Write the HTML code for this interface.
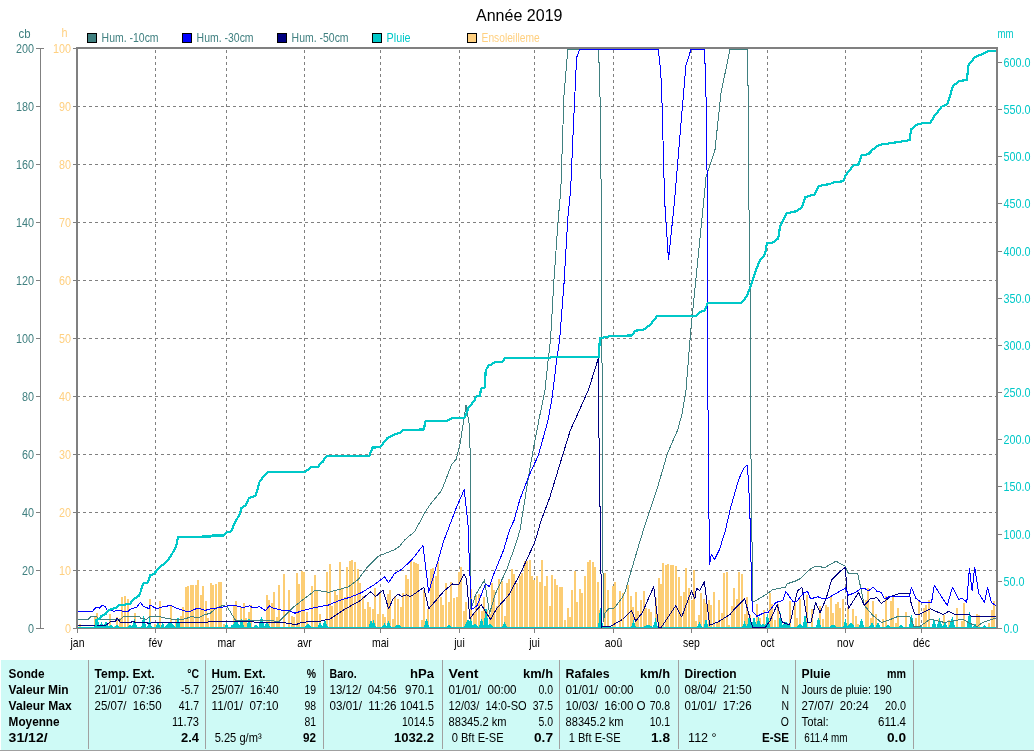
<!DOCTYPE html><html><head><meta charset="utf-8"><style>
html,body{margin:0;padding:0;background:#fff;width:1034px;height:751px;overflow:hidden}
svg{display:block;position:absolute;left:0;top:0;will-change:transform}
text{font-family:"Liberation Sans", sans-serif;white-space:pre}
</style></head><body>
<svg width="1034" height="751" viewBox="0 0 1034 751">

<text x="476" y="21" font-size="16.5" textLength="86.5" lengthAdjust="spacingAndGlyphs" fill="#000">Année 2019</text>
<rect x="87.5" y="33.5" width="9" height="9" fill="#408080" stroke="#000" stroke-width="1"/>
<text x="101.60" y="42" font-size="12.9" fill="#408080" textLength="57.00" lengthAdjust="spacingAndGlyphs">Hum. -10cm</text>
<rect x="182.5" y="33.5" width="9" height="9" fill="#0000FF" stroke="#000" stroke-width="1"/>
<text x="196.60" y="42" font-size="12.9" fill="#408080" textLength="57.00" lengthAdjust="spacingAndGlyphs">Hum. -30cm</text>
<rect x="277.5" y="33.5" width="9" height="9" fill="#000080" stroke="#000" stroke-width="1"/>
<text x="291.60" y="42" font-size="12.9" fill="#408080" textLength="57.00" lengthAdjust="spacingAndGlyphs">Hum. -50cm</text>
<rect x="372.5" y="33.5" width="9" height="9" fill="#00C8C8" stroke="#000" stroke-width="1"/>
<text x="386.60" y="42" font-size="12.9" fill="#00C8C8" textLength="24.00" lengthAdjust="spacingAndGlyphs">Pluie</text>
<rect x="467.5" y="33.5" width="9" height="9" fill="#FFD080" stroke="#000" stroke-width="1"/>
<text x="481.60" y="42" font-size="12.9" fill="#FFD080" textLength="58.00" lengthAdjust="spacingAndGlyphs">Ensoleilleme</text>
<text x="18.60" y="38" font-size="12.9" fill="#408080" textLength="12.00" lengthAdjust="spacingAndGlyphs">cb</text>
<text x="61.60" y="37" font-size="12.9" fill="#FFD080" textLength="6.00" lengthAdjust="spacingAndGlyphs">h</text>
<text x="997.60" y="38" font-size="12.9" fill="#00C8C8" textLength="16.00" lengthAdjust="spacingAndGlyphs">mm</text>
<defs><clipPath id="pc"><rect x="78" y="49" width="918" height="579"/></clipPath></defs>
<g clip-path="url(#pc)"><line x1="77" y1="106.5" x2="996" y2="106.5" stroke="#808080" stroke-width="1" stroke-dasharray="3 3" shape-rendering="crispEdges"/>
<line x1="77" y1="164.5" x2="996" y2="164.5" stroke="#808080" stroke-width="1" stroke-dasharray="3 3" shape-rendering="crispEdges"/>
<line x1="77" y1="222.5" x2="996" y2="222.5" stroke="#808080" stroke-width="1" stroke-dasharray="3 3" shape-rendering="crispEdges"/>
<line x1="77" y1="280.5" x2="996" y2="280.5" stroke="#808080" stroke-width="1" stroke-dasharray="3 3" shape-rendering="crispEdges"/>
<line x1="77" y1="338.5" x2="996" y2="338.5" stroke="#808080" stroke-width="1" stroke-dasharray="3 3" shape-rendering="crispEdges"/>
<line x1="77" y1="396.5" x2="996" y2="396.5" stroke="#808080" stroke-width="1" stroke-dasharray="3 3" shape-rendering="crispEdges"/>
<line x1="77" y1="454.5" x2="996" y2="454.5" stroke="#808080" stroke-width="1" stroke-dasharray="3 3" shape-rendering="crispEdges"/>
<line x1="77" y1="512.5" x2="996" y2="512.5" stroke="#808080" stroke-width="1" stroke-dasharray="3 3" shape-rendering="crispEdges"/>
<line x1="77" y1="570.5" x2="996" y2="570.5" stroke="#808080" stroke-width="1" stroke-dasharray="3 3" shape-rendering="crispEdges"/>
<line x1="155.5" y1="50" x2="155.5" y2="628" stroke="#808080" stroke-width="1" stroke-dasharray="3 3" shape-rendering="crispEdges"/>
<line x1="226.5" y1="50" x2="226.5" y2="628" stroke="#808080" stroke-width="1" stroke-dasharray="3 3" shape-rendering="crispEdges"/>
<line x1="304.5" y1="50" x2="304.5" y2="628" stroke="#808080" stroke-width="1" stroke-dasharray="3 3" shape-rendering="crispEdges"/>
<line x1="380.5" y1="50" x2="380.5" y2="628" stroke="#808080" stroke-width="1" stroke-dasharray="3 3" shape-rendering="crispEdges"/>
<line x1="459.5" y1="50" x2="459.5" y2="628" stroke="#808080" stroke-width="1" stroke-dasharray="3 3" shape-rendering="crispEdges"/>
<line x1="534.5" y1="50" x2="534.5" y2="628" stroke="#808080" stroke-width="1" stroke-dasharray="3 3" shape-rendering="crispEdges"/>
<line x1="613.5" y1="50" x2="613.5" y2="628" stroke="#808080" stroke-width="1" stroke-dasharray="3 3" shape-rendering="crispEdges"/>
<line x1="691.5" y1="50" x2="691.5" y2="628" stroke="#808080" stroke-width="1" stroke-dasharray="3 3" shape-rendering="crispEdges"/>
<line x1="767.5" y1="50" x2="767.5" y2="628" stroke="#808080" stroke-width="1" stroke-dasharray="3 3" shape-rendering="crispEdges"/>
<line x1="845.5" y1="50" x2="845.5" y2="628" stroke="#808080" stroke-width="1" stroke-dasharray="3 3" shape-rendering="crispEdges"/>
<line x1="921.5" y1="50" x2="921.5" y2="628" stroke="#808080" stroke-width="1" stroke-dasharray="3 3" shape-rendering="crispEdges"/>
<rect x="79" y="624" width="2" height="4" fill="#FCCD74"/>
<rect x="94" y="617" width="2" height="11" fill="#FCCD74"/>
<rect x="96" y="613" width="2" height="15" fill="#FCCD74"/>
<rect x="109" y="614" width="2" height="14" fill="#FCCD74"/>
<rect x="114" y="626" width="2" height="2" fill="#FCCD74"/>
<rect x="116" y="617" width="2" height="11" fill="#FCCD74"/>
<rect x="119" y="618" width="2" height="10" fill="#FCCD74"/>
<rect x="121" y="597" width="2" height="31" fill="#FCCD74"/>
<rect x="124" y="596" width="2" height="32" fill="#FCCD74"/>
<rect x="127" y="599" width="2" height="29" fill="#FCCD74"/>
<rect x="134" y="613" width="2" height="15" fill="#FCCD74"/>
<rect x="149" y="599" width="2" height="29" fill="#FCCD74"/>
<rect x="154" y="624" width="2" height="4" fill="#FCCD74"/>
<rect x="159" y="601" width="2" height="27" fill="#FCCD74"/>
<rect x="170" y="605" width="2" height="23" fill="#FCCD74"/>
<rect x="175" y="620" width="2" height="8" fill="#FCCD74"/>
<rect x="180" y="616" width="2" height="12" fill="#FCCD74"/>
<rect x="182" y="607" width="2" height="21" fill="#FCCD74"/>
<rect x="185" y="587" width="2" height="41" fill="#FCCD74"/>
<rect x="187" y="586" width="2" height="42" fill="#FCCD74"/>
<rect x="190" y="585" width="2" height="43" fill="#FCCD74"/>
<rect x="192" y="585" width="2" height="43" fill="#FCCD74"/>
<rect x="195" y="585" width="2" height="43" fill="#FCCD74"/>
<rect x="197" y="580" width="2" height="48" fill="#FCCD74"/>
<rect x="200" y="595" width="2" height="33" fill="#FCCD74"/>
<rect x="202" y="586" width="2" height="42" fill="#FCCD74"/>
<rect x="205" y="601" width="2" height="27" fill="#FCCD74"/>
<rect x="207" y="618" width="2" height="10" fill="#FCCD74"/>
<rect x="210" y="583" width="2" height="45" fill="#FCCD74"/>
<rect x="212" y="585" width="2" height="43" fill="#FCCD74"/>
<rect x="215" y="584" width="2" height="44" fill="#FCCD74"/>
<rect x="218" y="582" width="2" height="46" fill="#FCCD74"/>
<rect x="220" y="582" width="2" height="46" fill="#FCCD74"/>
<rect x="223" y="624" width="2" height="4" fill="#FCCD74"/>
<rect x="233" y="605" width="2" height="23" fill="#FCCD74"/>
<rect x="235" y="601" width="2" height="27" fill="#FCCD74"/>
<rect x="240" y="607" width="2" height="21" fill="#FCCD74"/>
<rect x="243" y="603" width="2" height="25" fill="#FCCD74"/>
<rect x="245" y="618" width="2" height="10" fill="#FCCD74"/>
<rect x="248" y="612" width="2" height="16" fill="#FCCD74"/>
<rect x="250" y="605" width="2" height="23" fill="#FCCD74"/>
<rect x="254" y="625" width="2" height="3" fill="#FCCD74"/>
<rect x="266" y="595" width="2" height="33" fill="#FCCD74"/>
<rect x="268" y="600" width="2" height="28" fill="#FCCD74"/>
<rect x="271" y="603" width="2" height="25" fill="#FCCD74"/>
<rect x="273" y="592" width="2" height="36" fill="#FCCD74"/>
<rect x="276" y="617" width="2" height="11" fill="#FCCD74"/>
<rect x="278" y="585" width="2" height="43" fill="#FCCD74"/>
<rect x="283" y="574" width="2" height="54" fill="#FCCD74"/>
<rect x="288" y="590" width="2" height="38" fill="#FCCD74"/>
<rect x="291" y="616" width="2" height="12" fill="#FCCD74"/>
<rect x="293" y="617" width="2" height="11" fill="#FCCD74"/>
<rect x="296" y="573" width="2" height="55" fill="#FCCD74"/>
<rect x="298" y="584" width="2" height="44" fill="#FCCD74"/>
<rect x="301" y="571" width="2" height="57" fill="#FCCD74"/>
<rect x="303" y="572" width="2" height="56" fill="#FCCD74"/>
<rect x="306" y="612" width="2" height="16" fill="#FCCD74"/>
<rect x="311" y="586" width="2" height="42" fill="#FCCD74"/>
<rect x="314" y="575" width="2" height="53" fill="#FCCD74"/>
<rect x="316" y="591" width="2" height="37" fill="#FCCD74"/>
<rect x="319" y="614" width="2" height="14" fill="#FCCD74"/>
<rect x="326" y="572" width="2" height="56" fill="#FCCD74"/>
<rect x="329" y="564" width="2" height="64" fill="#FCCD74"/>
<rect x="331" y="606" width="2" height="22" fill="#FCCD74"/>
<rect x="334" y="591" width="2" height="37" fill="#FCCD74"/>
<rect x="336" y="595" width="2" height="33" fill="#FCCD74"/>
<rect x="339" y="562" width="2" height="66" fill="#FCCD74"/>
<rect x="341" y="589" width="2" height="39" fill="#FCCD74"/>
<rect x="344" y="597" width="2" height="31" fill="#FCCD74"/>
<rect x="346" y="567" width="2" height="61" fill="#FCCD74"/>
<rect x="349" y="561" width="2" height="67" fill="#FCCD74"/>
<rect x="351" y="560" width="2" height="68" fill="#FCCD74"/>
<rect x="354" y="562" width="2" height="66" fill="#FCCD74"/>
<rect x="357" y="569" width="2" height="59" fill="#FCCD74"/>
<rect x="359" y="583" width="2" height="45" fill="#FCCD74"/>
<rect x="362" y="596" width="2" height="32" fill="#FCCD74"/>
<rect x="364" y="609" width="2" height="19" fill="#FCCD74"/>
<rect x="367" y="602" width="2" height="26" fill="#FCCD74"/>
<rect x="369" y="607" width="2" height="21" fill="#FCCD74"/>
<rect x="372" y="609" width="2" height="19" fill="#FCCD74"/>
<rect x="374" y="588" width="2" height="40" fill="#FCCD74"/>
<rect x="377" y="614" width="2" height="14" fill="#FCCD74"/>
<rect x="379" y="593" width="2" height="35" fill="#FCCD74"/>
<rect x="382" y="614" width="2" height="14" fill="#FCCD74"/>
<rect x="384" y="617" width="2" height="11" fill="#FCCD74"/>
<rect x="387" y="594" width="2" height="34" fill="#FCCD74"/>
<rect x="389" y="590" width="2" height="38" fill="#FCCD74"/>
<rect x="392" y="619" width="2" height="9" fill="#FCCD74"/>
<rect x="394" y="596" width="2" height="32" fill="#FCCD74"/>
<rect x="397" y="599" width="2" height="29" fill="#FCCD74"/>
<rect x="400" y="607" width="2" height="21" fill="#FCCD74"/>
<rect x="402" y="593" width="2" height="35" fill="#FCCD74"/>
<rect x="405" y="575" width="2" height="53" fill="#FCCD74"/>
<rect x="407" y="579" width="2" height="49" fill="#FCCD74"/>
<rect x="410" y="561" width="2" height="67" fill="#FCCD74"/>
<rect x="413" y="562" width="2" height="66" fill="#FCCD74"/>
<rect x="415" y="563" width="2" height="65" fill="#FCCD74"/>
<rect x="417" y="564" width="2" height="64" fill="#FCCD74"/>
<rect x="421" y="620" width="2" height="8" fill="#FCCD74"/>
<rect x="423" y="590" width="2" height="38" fill="#FCCD74"/>
<rect x="427" y="609" width="2" height="19" fill="#FCCD74"/>
<rect x="430" y="569" width="2" height="59" fill="#FCCD74"/>
<rect x="432" y="568" width="2" height="60" fill="#FCCD74"/>
<rect x="435" y="576" width="2" height="52" fill="#FCCD74"/>
<rect x="437" y="562" width="2" height="66" fill="#FCCD74"/>
<rect x="440" y="597" width="2" height="31" fill="#FCCD74"/>
<rect x="442" y="605" width="2" height="23" fill="#FCCD74"/>
<rect x="445" y="583" width="2" height="45" fill="#FCCD74"/>
<rect x="448" y="602" width="2" height="26" fill="#FCCD74"/>
<rect x="450" y="582" width="2" height="46" fill="#FCCD74"/>
<rect x="453" y="598" width="2" height="30" fill="#FCCD74"/>
<rect x="456" y="597" width="2" height="31" fill="#FCCD74"/>
<rect x="458" y="572" width="2" height="56" fill="#FCCD74"/>
<rect x="460" y="567" width="2" height="61" fill="#FCCD74"/>
<rect x="463" y="611" width="2" height="17" fill="#FCCD74"/>
<rect x="465" y="602" width="2" height="26" fill="#FCCD74"/>
<rect x="470" y="589" width="2" height="39" fill="#FCCD74"/>
<rect x="473" y="613" width="2" height="15" fill="#FCCD74"/>
<rect x="475" y="595" width="2" height="33" fill="#FCCD74"/>
<rect x="478" y="594" width="2" height="34" fill="#FCCD74"/>
<rect x="481" y="611" width="2" height="17" fill="#FCCD74"/>
<rect x="483" y="597" width="2" height="31" fill="#FCCD74"/>
<rect x="486" y="610" width="2" height="18" fill="#FCCD74"/>
<rect x="489" y="614" width="2" height="14" fill="#FCCD74"/>
<rect x="491" y="583" width="2" height="45" fill="#FCCD74"/>
<rect x="493" y="590" width="2" height="38" fill="#FCCD74"/>
<rect x="496" y="606" width="2" height="22" fill="#FCCD74"/>
<rect x="498" y="579" width="2" height="49" fill="#FCCD74"/>
<rect x="501" y="581" width="2" height="47" fill="#FCCD74"/>
<rect x="504" y="616" width="2" height="12" fill="#FCCD74"/>
<rect x="506" y="583" width="2" height="45" fill="#FCCD74"/>
<rect x="508" y="579" width="2" height="49" fill="#FCCD74"/>
<rect x="511" y="569" width="2" height="59" fill="#FCCD74"/>
<rect x="513" y="574" width="2" height="54" fill="#FCCD74"/>
<rect x="516" y="583" width="2" height="45" fill="#FCCD74"/>
<rect x="519" y="576" width="2" height="52" fill="#FCCD74"/>
<rect x="521" y="573" width="2" height="55" fill="#FCCD74"/>
<rect x="524" y="561" width="2" height="67" fill="#FCCD74"/>
<rect x="526" y="561" width="2" height="67" fill="#FCCD74"/>
<rect x="529" y="560" width="2" height="68" fill="#FCCD74"/>
<rect x="531" y="576" width="2" height="52" fill="#FCCD74"/>
<rect x="533" y="580" width="2" height="48" fill="#FCCD74"/>
<rect x="536" y="576" width="2" height="52" fill="#FCCD74"/>
<rect x="539" y="582" width="2" height="46" fill="#FCCD74"/>
<rect x="541" y="560" width="2" height="68" fill="#FCCD74"/>
<rect x="544" y="586" width="2" height="42" fill="#FCCD74"/>
<rect x="546" y="576" width="2" height="52" fill="#FCCD74"/>
<rect x="549" y="606" width="2" height="22" fill="#FCCD74"/>
<rect x="551" y="575" width="2" height="53" fill="#FCCD74"/>
<rect x="554" y="579" width="2" height="49" fill="#FCCD74"/>
<rect x="556" y="585" width="2" height="43" fill="#FCCD74"/>
<rect x="559" y="587" width="2" height="41" fill="#FCCD74"/>
<rect x="561" y="587" width="2" height="41" fill="#FCCD74"/>
<rect x="564" y="620" width="2" height="8" fill="#FCCD74"/>
<rect x="567" y="608" width="2" height="20" fill="#FCCD74"/>
<rect x="569" y="617" width="2" height="11" fill="#FCCD74"/>
<rect x="571" y="590" width="2" height="38" fill="#FCCD74"/>
<rect x="574" y="571" width="2" height="57" fill="#FCCD74"/>
<rect x="576" y="602" width="2" height="26" fill="#FCCD74"/>
<rect x="579" y="589" width="2" height="39" fill="#FCCD74"/>
<rect x="581" y="593" width="2" height="35" fill="#FCCD74"/>
<rect x="584" y="576" width="2" height="52" fill="#FCCD74"/>
<rect x="587" y="562" width="2" height="66" fill="#FCCD74"/>
<rect x="589" y="560" width="2" height="68" fill="#FCCD74"/>
<rect x="592" y="562" width="2" height="66" fill="#FCCD74"/>
<rect x="594" y="567" width="2" height="61" fill="#FCCD74"/>
<rect x="597" y="582" width="2" height="46" fill="#FCCD74"/>
<rect x="599" y="610" width="2" height="18" fill="#FCCD74"/>
<rect x="604" y="573" width="2" height="55" fill="#FCCD74"/>
<rect x="607" y="590" width="2" height="38" fill="#FCCD74"/>
<rect x="612" y="586" width="2" height="42" fill="#FCCD74"/>
<rect x="614" y="582" width="2" height="46" fill="#FCCD74"/>
<rect x="619" y="591" width="2" height="37" fill="#FCCD74"/>
<rect x="622" y="593" width="2" height="35" fill="#FCCD74"/>
<rect x="627" y="585" width="2" height="43" fill="#FCCD74"/>
<rect x="630" y="596" width="2" height="32" fill="#FCCD74"/>
<rect x="632" y="607" width="2" height="21" fill="#FCCD74"/>
<rect x="635" y="592" width="2" height="36" fill="#FCCD74"/>
<rect x="637" y="611" width="2" height="17" fill="#FCCD74"/>
<rect x="640" y="600" width="2" height="28" fill="#FCCD74"/>
<rect x="643" y="591" width="2" height="37" fill="#FCCD74"/>
<rect x="645" y="608" width="2" height="20" fill="#FCCD74"/>
<rect x="648" y="609" width="2" height="19" fill="#FCCD74"/>
<rect x="650" y="612" width="2" height="16" fill="#FCCD74"/>
<rect x="655" y="598" width="2" height="30" fill="#FCCD74"/>
<rect x="658" y="578" width="2" height="50" fill="#FCCD74"/>
<rect x="660" y="584" width="2" height="44" fill="#FCCD74"/>
<rect x="662" y="563" width="2" height="65" fill="#FCCD74"/>
<rect x="665" y="565" width="2" height="63" fill="#FCCD74"/>
<rect x="667" y="564" width="2" height="64" fill="#FCCD74"/>
<rect x="670" y="565" width="2" height="63" fill="#FCCD74"/>
<rect x="672" y="565" width="2" height="63" fill="#FCCD74"/>
<rect x="675" y="566" width="2" height="62" fill="#FCCD74"/>
<rect x="678" y="577" width="2" height="51" fill="#FCCD74"/>
<rect x="680" y="596" width="2" height="32" fill="#FCCD74"/>
<rect x="683" y="592" width="2" height="36" fill="#FCCD74"/>
<rect x="685" y="568" width="2" height="60" fill="#FCCD74"/>
<rect x="688" y="588" width="2" height="40" fill="#FCCD74"/>
<rect x="691" y="600" width="2" height="28" fill="#FCCD74"/>
<rect x="693" y="570" width="2" height="58" fill="#FCCD74"/>
<rect x="695" y="621" width="2" height="7" fill="#FCCD74"/>
<rect x="698" y="615" width="2" height="13" fill="#FCCD74"/>
<rect x="700" y="593" width="2" height="35" fill="#FCCD74"/>
<rect x="703" y="599" width="2" height="29" fill="#FCCD74"/>
<rect x="705" y="603" width="2" height="25" fill="#FCCD74"/>
<rect x="708" y="600" width="2" height="28" fill="#FCCD74"/>
<rect x="710" y="605" width="2" height="23" fill="#FCCD74"/>
<rect x="713" y="592" width="2" height="36" fill="#FCCD74"/>
<rect x="716" y="623" width="2" height="5" fill="#FCCD74"/>
<rect x="718" y="600" width="2" height="28" fill="#FCCD74"/>
<rect x="721" y="613" width="2" height="15" fill="#FCCD74"/>
<rect x="723" y="573" width="2" height="55" fill="#FCCD74"/>
<rect x="726" y="572" width="2" height="56" fill="#FCCD74"/>
<rect x="728" y="625" width="2" height="3" fill="#FCCD74"/>
<rect x="731" y="606" width="2" height="22" fill="#FCCD74"/>
<rect x="733" y="588" width="2" height="40" fill="#FCCD74"/>
<rect x="736" y="599" width="2" height="29" fill="#FCCD74"/>
<rect x="738" y="572" width="2" height="56" fill="#FCCD74"/>
<rect x="741" y="574" width="2" height="54" fill="#FCCD74"/>
<rect x="744" y="614" width="2" height="14" fill="#FCCD74"/>
<rect x="746" y="597" width="2" height="31" fill="#FCCD74"/>
<rect x="749" y="615" width="2" height="13" fill="#FCCD74"/>
<rect x="756" y="604" width="2" height="24" fill="#FCCD74"/>
<rect x="759" y="618" width="2" height="10" fill="#FCCD74"/>
<rect x="763" y="610" width="2" height="18" fill="#FCCD74"/>
<rect x="769" y="593" width="2" height="35" fill="#FCCD74"/>
<rect x="771" y="604" width="2" height="24" fill="#FCCD74"/>
<rect x="774" y="620" width="2" height="8" fill="#FCCD74"/>
<rect x="777" y="604" width="2" height="24" fill="#FCCD74"/>
<rect x="789" y="601" width="2" height="27" fill="#FCCD74"/>
<rect x="794" y="603" width="2" height="25" fill="#FCCD74"/>
<rect x="796" y="618" width="2" height="10" fill="#FCCD74"/>
<rect x="799" y="599" width="2" height="29" fill="#FCCD74"/>
<rect x="806" y="595" width="2" height="33" fill="#FCCD74"/>
<rect x="811" y="609" width="2" height="19" fill="#FCCD74"/>
<rect x="819" y="606" width="2" height="22" fill="#FCCD74"/>
<rect x="822" y="619" width="2" height="9" fill="#FCCD74"/>
<rect x="825" y="605" width="2" height="23" fill="#FCCD74"/>
<rect x="827" y="607" width="2" height="21" fill="#FCCD74"/>
<rect x="830" y="596" width="2" height="32" fill="#FCCD74"/>
<rect x="832" y="613" width="2" height="15" fill="#FCCD74"/>
<rect x="835" y="604" width="2" height="24" fill="#FCCD74"/>
<rect x="837" y="602" width="2" height="26" fill="#FCCD74"/>
<rect x="839" y="608" width="2" height="20" fill="#FCCD74"/>
<rect x="842" y="599" width="2" height="29" fill="#FCCD74"/>
<rect x="847" y="607" width="2" height="21" fill="#FCCD74"/>
<rect x="852" y="609" width="2" height="19" fill="#FCCD74"/>
<rect x="855" y="616" width="2" height="12" fill="#FCCD74"/>
<rect x="857" y="624" width="2" height="4" fill="#FCCD74"/>
<rect x="861" y="622" width="2" height="6" fill="#FCCD74"/>
<rect x="865" y="600" width="2" height="28" fill="#FCCD74"/>
<rect x="867" y="588" width="2" height="40" fill="#FCCD74"/>
<rect x="870" y="618" width="2" height="10" fill="#FCCD74"/>
<rect x="872" y="601" width="2" height="27" fill="#FCCD74"/>
<rect x="875" y="614" width="2" height="14" fill="#FCCD74"/>
<rect x="877" y="624" width="2" height="4" fill="#FCCD74"/>
<rect x="882" y="619" width="2" height="9" fill="#FCCD74"/>
<rect x="885" y="596" width="2" height="32" fill="#FCCD74"/>
<rect x="890" y="601" width="2" height="27" fill="#FCCD74"/>
<rect x="892" y="597" width="2" height="31" fill="#FCCD74"/>
<rect x="895" y="623" width="2" height="5" fill="#FCCD74"/>
<rect x="897" y="608" width="2" height="20" fill="#FCCD74"/>
<rect x="905" y="612" width="2" height="16" fill="#FCCD74"/>
<rect x="915" y="618" width="2" height="10" fill="#FCCD74"/>
<rect x="918" y="600" width="2" height="28" fill="#FCCD74"/>
<rect x="923" y="608" width="2" height="20" fill="#FCCD74"/>
<rect x="925" y="605" width="2" height="23" fill="#FCCD74"/>
<rect x="928" y="600" width="2" height="28" fill="#FCCD74"/>
<rect x="938" y="619" width="2" height="9" fill="#FCCD74"/>
<rect x="943" y="615" width="2" height="13" fill="#FCCD74"/>
<rect x="948" y="620" width="2" height="8" fill="#FCCD74"/>
<rect x="956" y="608" width="2" height="20" fill="#FCCD74"/>
<rect x="961" y="621" width="2" height="7" fill="#FCCD74"/>
<rect x="963" y="603" width="2" height="25" fill="#FCCD74"/>
<rect x="976" y="614" width="2" height="14" fill="#FCCD74"/>
<rect x="978" y="615" width="2" height="13" fill="#FCCD74"/>
<rect x="988" y="623" width="2" height="5" fill="#FCCD74"/>
<rect x="991" y="610" width="2" height="18" fill="#FCCD74"/>
<rect x="993" y="601" width="2" height="27" fill="#FCCD74"/>
<polygon points="78.0,627.5 94.5,627.5 97.0,619.0 99.5,627.5 99.5,627.5 101.5,623.0 103.5,627.5 103.5,627.5 106.0,622.5 108.5,627.5 109.0,627.5 111.0,625.0 113.0,627.5 115.0,627.5 117.0,625.0 119.0,627.5 128.0,627.5 130.0,625.0 132.0,627.5 132.0,627.5 134.5,620.8 137.0,627.5 141.7,627.5 143.7,616.4 145.7,627.5 147.5,627.5 149.5,620.3 151.5,627.5 156.0,627.5 158.0,622.2 160.0,627.5 161.1,627.5 162.6,623.5 164.1,627.5 164.5,627.5 170.0,622.5 175.5,627.5 176.0,627.5 178.0,617.9 180.0,627.5 224.5,627.5 226.5,624.2 228.5,627.5 230.5,627.5 232.0,625.5 233.5,627.5 232.5,627.5 236.0,620.3 239.5,627.5 239.5,627.5 241.5,619.3 243.5,627.5 247.0,627.5 249.0,619.3 251.0,627.5 254.0,627.5 256.0,625.0 258.0,627.5 259.0,627.5 261.5,616.9 264.0,627.5 264.0,627.5 267.0,623.2 270.0,627.5 304.5,627.5 308.0,624.0 311.5,627.5 318.0,627.5 320.0,623.0 322.0,627.5 322.5,627.5 325.0,621.0 327.5,627.5 369.0,627.5 371.0,621.0 373.0,627.5 371.5,627.5 373.5,621.4 375.5,627.5 382.0,627.5 384.5,624.0 387.0,627.5 386.5,627.5 388.5,622.0 390.5,627.5 394.5,627.5 398.0,625.0 401.5,627.5 424.5,627.5 426.5,619.2 428.5,627.5 447.0,627.5 449.0,625.0 451.0,627.5 464.5,627.5 468.0,619.8 471.5,627.5 468.5,627.5 470.5,619.2 472.5,627.5 471.5,627.5 475.0,624.5 478.5,627.5 479.5,627.5 481.5,619.2 483.5,627.5 484.0,627.5 486.0,609.1 488.0,627.5 486.5,627.5 490.0,624.5 493.5,627.5 502.5,627.5 504.5,623.0 506.5,627.5 598.5,627.5 600.5,608.0 602.5,627.5 631.5,627.5 633.5,621.9 635.5,627.5 643.5,627.5 648.0,625.0 652.5,627.5 653.5,627.5 655.5,619.8 657.5,627.5 697.5,627.5 699.5,623.0 701.5,627.5 704.0,627.5 706.0,619.8 708.0,627.5 742.5,627.5 744.5,622.4 746.5,627.5 747.5,627.5 749.5,615.5 751.5,627.5 751.5,627.5 754.0,618.2 756.5,627.5 756.0,627.5 758.5,619.2 761.0,627.5 760.5,627.5 763.0,624.0 765.5,627.5 765.5,627.5 767.5,614.2 769.5,627.5 779.0,627.5 780.5,612.7 782.0,627.5 781.5,627.5 786.0,622.0 790.5,627.5 796.5,627.5 800.0,624.0 803.5,627.5 803.0,627.5 805.0,616.0 807.0,627.5 816.5,627.5 818.5,618.0 820.5,627.5 829.5,627.5 833.0,625.0 836.5,627.5 843.5,627.5 845.5,621.0 847.5,627.5 847.5,627.5 851.0,623.0 854.5,627.5 859.5,627.5 861.5,619.0 863.5,627.5 869.5,627.5 872.0,623.0 874.5,627.5 875.5,627.5 878.0,623.5 880.5,627.5 885.5,627.5 888.0,625.0 890.5,627.5 898.5,627.5 901.0,625.0 903.5,627.5 909.5,627.5 911.5,615.0 913.5,627.5 932.0,627.5 934.0,620.4 936.0,627.5 937.0,627.5 939.5,619.5 942.0,627.5 942.5,627.5 945.0,623.0 947.5,627.5 949.0,627.5 951.5,620.6 954.0,627.5 950.5,627.5 952.5,617.3 954.5,627.5 967.5,627.5 969.5,612.2 971.5,627.5 973.0,627.5 975.0,624.0 977.0,627.5 983.0,627.5 984.5,625.5 986.0,627.5 990.5,627.5 993.0,627.0 995.5,627.5 996.0,627.5" fill="#00C8C8" stroke="#00C8C8" stroke-width="1" shape-rendering="crispEdges"/>
<polyline points="77.0,619.5 87.8,619.5 91.7,616.0 95.6,616.0 100.2,619.8 120.3,619.8 124.2,616.0 138.9,616.0 141.2,618.7 146.6,619.1 150.5,616.4 157.0,616.0 168.3,618.8 179.1,619.6 185.3,618.8 191.5,616.5 197.7,618.0 203.9,614.9 210.0,613.4 216.3,608.0 222.5,605.6 227.1,606.4 231.7,614.2 235.8,620.6 267.8,620.6 279.3,621.4 294.0,606.6 315.5,590.1 328.6,592.3 348.4,586.9 358.2,579.5 366.5,568.0 378.0,556.4 387.8,552.3 394.4,549.9 400.0,545.8 404.9,539.7 414.7,531.5 424.7,513.0 429.4,505.5 441.5,490.6 451.7,464.5 456.4,459.0 460.0,444.0 463.8,419.8 466.0,404.9 469.4,425.4 470.7,473.8 471.0,608.8 475.6,594.8 484.6,580.0 489.5,613.7 495.3,594.0 506.8,569.3 516.7,541.4 520.0,530.0 529.0,473.8 534.6,442.2 539.3,418.0 545.0,390.0 548.3,358.7 550.5,340.0 553.8,282.3 558.0,222.2 560.8,190.0 564.0,95.3 567.8,49.5 598.7,49.5 599.2,70.2 600.5,113.0 601.3,216.6 602.2,400.0 602.5,530.0 603.6,622.0 604.4,613.7 609.3,608.0 614.3,608.0 622.5,597.3 625.0,592.3 630.7,572.6 638.9,544.7 645.0,525.0 649.4,511.9 657.5,487.5 667.6,453.0 677.8,429.6 681.9,414.4 686.0,390.0 690.8,330.0 697.8,260.0 704.8,190.0 706.0,177.0 714.9,150.6 721.0,92.8 730.0,49.5 747.6,49.5 748.3,110.4 748.8,200.0 749.6,237.6 751.0,400.0 750.9,450.0 751.9,530.0 752.6,601.8 754.0,601.8 767.0,593.8 772.9,589.5 785.2,587.3 787.4,583.7 796.1,580.8 800.4,578.6 809.1,569.9 815.0,566.3 825.1,567.4 836.0,561.2 845.4,566.3 848.3,573.2 857.7,573.2 864.3,605.4 872.8,615.3 881.3,622.5 891.1,619.2 897.6,616.6 910.0,616.6 914.0,626.4 919.8,626.4 930.3,619.2 944.6,622.5 962.9,619.2 969.4,623.1 977.3,626.4 982.5,622.5 996.2,617.9" fill="none" stroke="#408080" stroke-width="1" stroke-linejoin="round" shape-rendering="crispEdges"/>
<polyline points="77.0,625.3 105.6,625.3 111.0,621.4 115.7,621.0 117.2,618.3 120.3,622.2 131.2,622.2 132.7,621.0 135.0,622.2 146.6,622.6 148.2,623.3 157.0,622.2 237.0,621.9 281.0,622.2 295.8,624.7 302.3,622.2 318.8,621.4 330.3,618.9 345.1,609.0 359.9,600.8 370.6,591.8 375.5,596.7 382.9,590.1 388.7,609.0 392.8,599.2 398.3,594.0 401.6,596.5 406.5,594.8 410.6,596.5 423.8,587.4 428.7,608.8 444.3,590.7 452.5,584.0 458.3,585.0 464.0,574.3 466.5,579.2 469.8,618.7 475.6,611.3 481.3,604.7 490.4,619.5 497.0,608.0 508.4,595.6 520.0,574.3 534.8,542.2 541.3,520.0 549.6,498.0 559.8,464.5 570.2,430.6 588.4,390.0 598.5,357.8 598.6,402.0 599.6,490.5 600.6,530.0 601.5,627.0 609.3,626.9 622.5,619.5 631.5,610.4 635.6,621.1 642.2,612.9 653.7,586.6 658.7,627.7 661.0,627.7 675.9,605.5 681.7,617.0 691.5,590.7 694.8,599.0 696.5,588.2 699.8,590.7 704.4,581.7 709.6,625.2 717.8,622.0 730.0,614.5 734.4,609.0 744.6,598.9 752.6,627.2 765.6,627.2 770.0,620.7 777.2,604.7 782.3,622.1 789.6,625.0 797.5,590.9 801.9,587.3 807.7,622.1 811.0,622.1 815.7,602.5 820.0,612.7 825.8,599.6 831.6,580.0 841.0,570.6 845.1,567.7 846.1,577.9 848.3,609.0 858.5,592.4 864.3,605.4 870.2,599.0 876.8,597.7 881.3,603.5 891.1,596.4 900.3,593.1 909.4,593.1 910.7,601.6 914.6,614.0 919.8,614.0 930.3,608.8 943.3,614.6 948.6,611.4 955.1,614.6 969.4,614.6 972.1,616.6 996.2,616.6" fill="none" stroke="#000080" stroke-width="1" stroke-linejoin="round" shape-rendering="crispEdges"/>
<polyline points="77.0,611.3 92.5,611.3 96.3,607.1 99.4,608.2 102.1,605.1 105.2,606.7 107.2,610.6 111.0,610.6 114.1,611.3 118.0,610.2 123.4,611.3 128.0,611.3 131.2,608.6 136.6,607.5 140.4,602.4 143.5,606.3 149.0,608.6 150.1,605.1 154.4,607.5 157.0,608.6 163.7,606.4 171.4,605.6 177.6,608.7 185.3,611.0 191.0,611.0 197.7,608.0 205.4,610.3 211.6,608.7 222.5,607.2 228.6,605.6 236.6,605.8 243.0,607.4 249.7,605.8 253.0,608.0 259.6,606.6 265.4,610.7 269.5,605.8 272.7,608.0 281.0,610.0 289.2,610.7 295.0,613.2 302.3,610.7 315.5,607.4 328.6,605.0 338.5,600.8 351.7,596.7 361.5,592.6 374.7,584.4 384.6,577.0 388.7,582.7 394.4,573.7 401.6,569.3 411.4,560.3 423.0,545.5 428.7,592.3 438.6,558.6 443.5,541.4 451.7,520.0 456.4,507.4 464.2,489.7 467.6,520.4 468.5,530.0 469.0,552.9 471.5,609.6 477.2,605.5 485.4,584.0 489.5,586.6 493.7,574.3 503.5,550.4 509.5,530.0 514.2,520.0 519.7,500.0 529.0,475.7 538.4,455.2 547.7,421.7 551.8,400.0 557.0,357.4 559.6,340.0 564.1,282.3 567.8,218.0 570.6,190.0 574.0,113.0 576.6,57.6 579.6,49.5 658.3,49.5 660.8,72.7 662.0,102.9 664.6,200.0 668.5,260.0 674.6,200.0 681.0,123.0 686.0,65.0 691.0,49.5 704.3,49.5 705.6,75.2 706.6,128.0 707.3,200.0 707.6,357.8 708.7,495.6 709.6,564.4 711.3,554.5 714.5,559.5 719.5,549.6 725.5,530.0 730.6,507.8 738.7,479.4 743.8,468.2 747.2,465.1 748.5,481.4 749.9,513.9 750.3,530.0 751.8,596.7 752.6,611.2 756.9,616.3 762.7,613.4 768.5,612.0 775.8,602.5 783.0,600.4 785.9,591.7 793.2,601.8 797.0,601.0 804.0,592.4 807.7,591.7 810.6,598.9 817.8,596.7 821.0,598.0 826.6,598.9 835.3,593.8 845.4,588.0 848.3,595.3 855.6,592.4 860.6,588.8 865.0,588.5 868.0,591.0 873.5,587.2 876.8,591.1 881.3,592.4 884.6,599.0 889.8,596.4 909.4,596.4 911.4,587.2 915.9,598.3 921.1,602.2 931.6,602.2 934.2,585.3 947.3,605.5 952.5,587.2 959.0,599.6 962.0,598.0 966.8,602.2 969.4,568.3 972.1,591.1 974.7,567.0 978.6,593.1 984.5,602.2 987.5,587.2 991.6,602.9 996.2,605.5" fill="none" stroke="#0000FF" stroke-width="1" stroke-linejoin="round" shape-rendering="crispEdges"/>
<polyline points="77.0,628.0 95.6,628.0 96.3,620.2 100.2,618.3 101.0,616.0 105.6,614.0 108.0,611.0 111.0,609.4 115.7,607.9 118.8,605.5 130.0,603.8 134.0,598.8 139.0,595.8 141.0,590.8 143.0,583.8 148.0,582.2 150.0,575.4 154.0,573.8 159.0,567.8 166.0,562.3 171.0,555.9 176.3,545.9 178.0,536.9 210.9,536.5 212.9,535.5 223.9,535.5 226.9,531.9 230.9,531.5 235.9,520.9 239.8,513.9 241.4,507.9 245.8,505.5 248.8,498.3 255.8,495.6 257.8,488.0 259.8,481.0 267.8,472.0 270.0,472.0 305.2,472.0 310.9,467.0 318.4,467.0 319.7,464.2 322.8,461.7 326.0,456.6 329.7,455.6 369.3,455.6 372.5,447.6 380.0,447.2 387.5,437.8 390.7,436.5 394.5,434.6 400.0,432.7 403.3,430.0 423.8,429.5 425.6,420.7 447.0,420.7 452.7,418.0 464.8,417.6 468.5,407.7 474.0,401.2 476.1,396.6 480.0,395.7 480.9,388.7 484.8,387.4 485.2,379.2 485.7,370.5 488.3,365.7 490.9,364.8 495.2,361.8 502.2,361.8 504.8,358.3 550.0,358.3 551.4,357.0 598.5,357.3 600.0,338.3 611.0,336.0 632.0,335.5 635.0,330.7 643.3,330.0 650.3,324.8 657.3,315.9 696.4,315.9 700.6,311.7 704.8,310.3 707.6,303.3 741.2,303.3 746.8,296.3 751.0,285.0 755.2,272.5 759.4,261.3 765.0,254.3 767.0,242.8 772.6,242.8 778.2,238.6 780.1,226.0 786.6,213.4 796.4,211.2 802.0,207.3 805.3,197.2 814.5,194.4 818.7,186.0 830.0,184.0 834.1,182.1 843.4,181.3 845.3,175.7 853.7,165.0 858.5,164.5 861.3,155.5 868.5,154.1 873.3,149.1 878.9,144.9 888.7,143.5 902.7,141.3 909.7,140.1 911.0,129.5 918.0,123.9 930.6,122.5 934.8,115.5 941.8,106.6 947.4,104.3 953.0,86.2 958.6,81.4 967.0,79.7 968.4,65.2 974.8,57.3 983.8,53.4 988.0,51.2 996.4,50.6" fill="none" stroke="#00C8C8" stroke-width="2.2" stroke-linejoin="round" shape-rendering="crispEdges"/></g>
<rect x="76" y="47" width="922" height="2" fill="#808080"/>
<rect x="76" y="47" width="2" height="582" fill="#808080"/>
<rect x="996" y="47" width="2" height="582" fill="#808080"/>
<rect x="76" y="628" width="922" height="1" fill="#808080"/>
<line x1="40.5" y1="48" x2="40.5" y2="628" stroke="#808080" stroke-width="1" shape-rendering="crispEdges"/>
<line x1="36" y1="48.5" x2="44" y2="48.5" stroke="#808080" stroke-width="1" shape-rendering="crispEdges"/>
<line x1="73" y1="48.5" x2="77" y2="48.5" stroke="#808080" stroke-width="1" shape-rendering="crispEdges"/>
<text x="34.00" y="53" font-size="12.9" text-anchor="end" fill="#408080" textLength="18.00" lengthAdjust="spacingAndGlyphs">200</text>
<text x="71.00" y="53" font-size="12.9" text-anchor="end" fill="#FFD080" textLength="18.00" lengthAdjust="spacingAndGlyphs">100</text>
<line x1="36" y1="106.5" x2="41" y2="106.5" stroke="#808080" stroke-width="1" shape-rendering="crispEdges"/>
<line x1="73" y1="106.5" x2="77" y2="106.5" stroke="#808080" stroke-width="1" shape-rendering="crispEdges"/>
<text x="34.00" y="111" font-size="12.9" text-anchor="end" fill="#408080" textLength="18.00" lengthAdjust="spacingAndGlyphs">180</text>
<text x="71.00" y="111" font-size="12.9" text-anchor="end" fill="#FFD080" textLength="12.00" lengthAdjust="spacingAndGlyphs">90</text>
<line x1="36" y1="164.5" x2="41" y2="164.5" stroke="#808080" stroke-width="1" shape-rendering="crispEdges"/>
<line x1="73" y1="164.5" x2="77" y2="164.5" stroke="#808080" stroke-width="1" shape-rendering="crispEdges"/>
<text x="34.00" y="169" font-size="12.9" text-anchor="end" fill="#408080" textLength="18.00" lengthAdjust="spacingAndGlyphs">160</text>
<text x="71.00" y="169" font-size="12.9" text-anchor="end" fill="#FFD080" textLength="12.00" lengthAdjust="spacingAndGlyphs">80</text>
<line x1="36" y1="222.5" x2="41" y2="222.5" stroke="#808080" stroke-width="1" shape-rendering="crispEdges"/>
<line x1="73" y1="222.5" x2="77" y2="222.5" stroke="#808080" stroke-width="1" shape-rendering="crispEdges"/>
<text x="34.00" y="227" font-size="12.9" text-anchor="end" fill="#408080" textLength="18.00" lengthAdjust="spacingAndGlyphs">140</text>
<text x="71.00" y="227" font-size="12.9" text-anchor="end" fill="#FFD080" textLength="12.00" lengthAdjust="spacingAndGlyphs">70</text>
<line x1="36" y1="280.5" x2="41" y2="280.5" stroke="#808080" stroke-width="1" shape-rendering="crispEdges"/>
<line x1="73" y1="280.5" x2="77" y2="280.5" stroke="#808080" stroke-width="1" shape-rendering="crispEdges"/>
<text x="34.00" y="285" font-size="12.9" text-anchor="end" fill="#408080" textLength="18.00" lengthAdjust="spacingAndGlyphs">120</text>
<text x="71.00" y="285" font-size="12.9" text-anchor="end" fill="#FFD080" textLength="12.00" lengthAdjust="spacingAndGlyphs">60</text>
<line x1="36" y1="338.5" x2="41" y2="338.5" stroke="#808080" stroke-width="1" shape-rendering="crispEdges"/>
<line x1="73" y1="338.5" x2="77" y2="338.5" stroke="#808080" stroke-width="1" shape-rendering="crispEdges"/>
<text x="34.00" y="343" font-size="12.9" text-anchor="end" fill="#408080" textLength="18.00" lengthAdjust="spacingAndGlyphs">100</text>
<text x="71.00" y="343" font-size="12.9" text-anchor="end" fill="#FFD080" textLength="12.00" lengthAdjust="spacingAndGlyphs">50</text>
<line x1="36" y1="396.5" x2="41" y2="396.5" stroke="#808080" stroke-width="1" shape-rendering="crispEdges"/>
<line x1="73" y1="396.5" x2="77" y2="396.5" stroke="#808080" stroke-width="1" shape-rendering="crispEdges"/>
<text x="34.00" y="401" font-size="12.9" text-anchor="end" fill="#408080" textLength="12.00" lengthAdjust="spacingAndGlyphs">80</text>
<text x="71.00" y="401" font-size="12.9" text-anchor="end" fill="#FFD080" textLength="12.00" lengthAdjust="spacingAndGlyphs">40</text>
<line x1="36" y1="454.5" x2="41" y2="454.5" stroke="#808080" stroke-width="1" shape-rendering="crispEdges"/>
<line x1="73" y1="454.5" x2="77" y2="454.5" stroke="#808080" stroke-width="1" shape-rendering="crispEdges"/>
<text x="34.00" y="459" font-size="12.9" text-anchor="end" fill="#408080" textLength="12.00" lengthAdjust="spacingAndGlyphs">60</text>
<text x="71.00" y="459" font-size="12.9" text-anchor="end" fill="#FFD080" textLength="12.00" lengthAdjust="spacingAndGlyphs">30</text>
<line x1="36" y1="512.5" x2="41" y2="512.5" stroke="#808080" stroke-width="1" shape-rendering="crispEdges"/>
<line x1="73" y1="512.5" x2="77" y2="512.5" stroke="#808080" stroke-width="1" shape-rendering="crispEdges"/>
<text x="34.00" y="517" font-size="12.9" text-anchor="end" fill="#408080" textLength="12.00" lengthAdjust="spacingAndGlyphs">40</text>
<text x="71.00" y="517" font-size="12.9" text-anchor="end" fill="#FFD080" textLength="12.00" lengthAdjust="spacingAndGlyphs">20</text>
<line x1="36" y1="570.5" x2="41" y2="570.5" stroke="#808080" stroke-width="1" shape-rendering="crispEdges"/>
<line x1="73" y1="570.5" x2="77" y2="570.5" stroke="#808080" stroke-width="1" shape-rendering="crispEdges"/>
<text x="34.00" y="575" font-size="12.9" text-anchor="end" fill="#408080" textLength="12.00" lengthAdjust="spacingAndGlyphs">20</text>
<text x="71.00" y="575" font-size="12.9" text-anchor="end" fill="#FFD080" textLength="12.00" lengthAdjust="spacingAndGlyphs">10</text>
<line x1="36" y1="628.5" x2="44" y2="628.5" stroke="#808080" stroke-width="1" shape-rendering="crispEdges"/>
<line x1="73" y1="628.5" x2="77" y2="628.5" stroke="#808080" stroke-width="1" shape-rendering="crispEdges"/>
<text x="34.00" y="633" font-size="12.9" text-anchor="end" fill="#408080" textLength="6.00" lengthAdjust="spacingAndGlyphs">0</text>
<text x="71.00" y="633" font-size="12.9" text-anchor="end" fill="#FFD080" textLength="6.00" lengthAdjust="spacingAndGlyphs">0</text>
<line x1="997" y1="628.5" x2="1002" y2="628.5" stroke="#808080" stroke-width="1" shape-rendering="crispEdges"/>
<text x="1003.60" y="633" font-size="12.9" fill="#00C8C8" textLength="15.00" lengthAdjust="spacingAndGlyphs">0.0</text>
<line x1="997" y1="581.5" x2="1002" y2="581.5" stroke="#808080" stroke-width="1" shape-rendering="crispEdges"/>
<text x="1003.60" y="586" font-size="12.9" fill="#00C8C8" textLength="21.00" lengthAdjust="spacingAndGlyphs">50.0</text>
<line x1="997" y1="534.5" x2="1002" y2="534.5" stroke="#808080" stroke-width="1" shape-rendering="crispEdges"/>
<text x="1003.60" y="539" font-size="12.9" fill="#00C8C8" textLength="27.00" lengthAdjust="spacingAndGlyphs">100.0</text>
<line x1="997" y1="486.5" x2="1002" y2="486.5" stroke="#808080" stroke-width="1" shape-rendering="crispEdges"/>
<text x="1003.60" y="491" font-size="12.9" fill="#00C8C8" textLength="27.00" lengthAdjust="spacingAndGlyphs">150.0</text>
<line x1="997" y1="439.5" x2="1002" y2="439.5" stroke="#808080" stroke-width="1" shape-rendering="crispEdges"/>
<text x="1003.60" y="444" font-size="12.9" fill="#00C8C8" textLength="27.00" lengthAdjust="spacingAndGlyphs">200.0</text>
<line x1="997" y1="392.5" x2="1002" y2="392.5" stroke="#808080" stroke-width="1" shape-rendering="crispEdges"/>
<text x="1003.60" y="397" font-size="12.9" fill="#00C8C8" textLength="27.00" lengthAdjust="spacingAndGlyphs">250.0</text>
<line x1="997" y1="345.5" x2="1002" y2="345.5" stroke="#808080" stroke-width="1" shape-rendering="crispEdges"/>
<text x="1003.60" y="350" font-size="12.9" fill="#00C8C8" textLength="27.00" lengthAdjust="spacingAndGlyphs">300.0</text>
<line x1="997" y1="298.5" x2="1002" y2="298.5" stroke="#808080" stroke-width="1" shape-rendering="crispEdges"/>
<text x="1003.60" y="303" font-size="12.9" fill="#00C8C8" textLength="27.00" lengthAdjust="spacingAndGlyphs">350.0</text>
<line x1="997" y1="251.5" x2="1002" y2="251.5" stroke="#808080" stroke-width="1" shape-rendering="crispEdges"/>
<text x="1003.60" y="256" font-size="12.9" fill="#00C8C8" textLength="27.00" lengthAdjust="spacingAndGlyphs">400.0</text>
<line x1="997" y1="203.5" x2="1002" y2="203.5" stroke="#808080" stroke-width="1" shape-rendering="crispEdges"/>
<text x="1003.60" y="208" font-size="12.9" fill="#00C8C8" textLength="27.00" lengthAdjust="spacingAndGlyphs">450.0</text>
<line x1="997" y1="156.5" x2="1002" y2="156.5" stroke="#808080" stroke-width="1" shape-rendering="crispEdges"/>
<text x="1003.60" y="161" font-size="12.9" fill="#00C8C8" textLength="27.00" lengthAdjust="spacingAndGlyphs">500.0</text>
<line x1="997" y1="109.5" x2="1002" y2="109.5" stroke="#808080" stroke-width="1" shape-rendering="crispEdges"/>
<text x="1003.60" y="114" font-size="12.9" fill="#00C8C8" textLength="27.00" lengthAdjust="spacingAndGlyphs">550.0</text>
<line x1="997" y1="62.5" x2="1002" y2="62.5" stroke="#808080" stroke-width="1" shape-rendering="crispEdges"/>
<text x="1003.60" y="67" font-size="12.9" fill="#00C8C8" textLength="27.00" lengthAdjust="spacingAndGlyphs">600.0</text>
<line x1="77.5" y1="628" x2="77.5" y2="633" stroke="#808080" stroke-width="1" shape-rendering="crispEdges"/>
<text x="77.50" y="647" font-size="12.9" text-anchor="middle" fill="#000" textLength="13.94" lengthAdjust="spacingAndGlyphs">jan</text>
<line x1="155.5" y1="628" x2="155.5" y2="633" stroke="#808080" stroke-width="1" shape-rendering="crispEdges"/>
<text x="155.50" y="647" font-size="12.9" text-anchor="middle" fill="#000" textLength="13.94" lengthAdjust="spacingAndGlyphs">fév</text>
<line x1="226.5" y1="628" x2="226.5" y2="633" stroke="#808080" stroke-width="1" shape-rendering="crispEdges"/>
<text x="226.50" y="647" font-size="12.9" text-anchor="middle" fill="#000" textLength="17.99" lengthAdjust="spacingAndGlyphs">mar</text>
<line x1="304.5" y1="628" x2="304.5" y2="633" stroke="#808080" stroke-width="1" shape-rendering="crispEdges"/>
<text x="304.50" y="647" font-size="12.9" text-anchor="middle" fill="#000" textLength="14.52" lengthAdjust="spacingAndGlyphs">avr</text>
<line x1="380.5" y1="628" x2="380.5" y2="633" stroke="#808080" stroke-width="1" shape-rendering="crispEdges"/>
<text x="380.50" y="647" font-size="12.9" text-anchor="middle" fill="#000" textLength="16.84" lengthAdjust="spacingAndGlyphs">mai</text>
<line x1="459.5" y1="628" x2="459.5" y2="633" stroke="#808080" stroke-width="1" shape-rendering="crispEdges"/>
<text x="459.50" y="647" font-size="12.9" text-anchor="middle" fill="#000" textLength="10.45" lengthAdjust="spacingAndGlyphs">jui</text>
<line x1="534.5" y1="628" x2="534.5" y2="633" stroke="#808080" stroke-width="1" shape-rendering="crispEdges"/>
<text x="534.50" y="647" font-size="12.9" text-anchor="middle" fill="#000" textLength="10.45" lengthAdjust="spacingAndGlyphs">jui</text>
<line x1="613.5" y1="628" x2="613.5" y2="633" stroke="#808080" stroke-width="1" shape-rendering="crispEdges"/>
<text x="613.50" y="647" font-size="12.9" text-anchor="middle" fill="#000" textLength="17.43" lengthAdjust="spacingAndGlyphs">aoû</text>
<line x1="691.5" y1="628" x2="691.5" y2="633" stroke="#808080" stroke-width="1" shape-rendering="crispEdges"/>
<text x="691.50" y="647" font-size="12.9" text-anchor="middle" fill="#000" textLength="16.85" lengthAdjust="spacingAndGlyphs">sep</text>
<line x1="767.5" y1="628" x2="767.5" y2="633" stroke="#808080" stroke-width="1" shape-rendering="crispEdges"/>
<text x="767.50" y="647" font-size="12.9" text-anchor="middle" fill="#000" textLength="13.94" lengthAdjust="spacingAndGlyphs">oct</text>
<line x1="845.5" y1="628" x2="845.5" y2="633" stroke="#808080" stroke-width="1" shape-rendering="crispEdges"/>
<text x="845.50" y="647" font-size="12.9" text-anchor="middle" fill="#000" textLength="16.85" lengthAdjust="spacingAndGlyphs">nov</text>
<line x1="921.5" y1="628" x2="921.5" y2="633" stroke="#808080" stroke-width="1" shape-rendering="crispEdges"/>
<text x="921.50" y="647" font-size="12.9" text-anchor="middle" fill="#000" textLength="16.85" lengthAdjust="spacingAndGlyphs">déc</text>
<rect x="1" y="660" width="1033" height="90" fill="#CEFAF6"/>
<line x1="0" y1="750.5" x2="1034" y2="750.5" stroke="#A0A0A0" stroke-width="1" shape-rendering="crispEdges"/>
<line x1="88.5" y1="660" x2="88.5" y2="749" stroke="#A0A0A0" stroke-width="1" shape-rendering="crispEdges"/>
<line x1="205.5" y1="660" x2="205.5" y2="749" stroke="#A0A0A0" stroke-width="1" shape-rendering="crispEdges"/>
<line x1="323.5" y1="660" x2="323.5" y2="749" stroke="#A0A0A0" stroke-width="1" shape-rendering="crispEdges"/>
<line x1="442.5" y1="660" x2="442.5" y2="749" stroke="#A0A0A0" stroke-width="1" shape-rendering="crispEdges"/>
<line x1="559.5" y1="660" x2="559.5" y2="749" stroke="#A0A0A0" stroke-width="1" shape-rendering="crispEdges"/>
<line x1="678.5" y1="660" x2="678.5" y2="749" stroke="#A0A0A0" stroke-width="1" shape-rendering="crispEdges"/>
<line x1="795.5" y1="660" x2="795.5" y2="749" stroke="#A0A0A0" stroke-width="1" shape-rendering="crispEdges"/>
<line x1="913.5" y1="660" x2="913.5" y2="749" stroke="#A0A0A0" stroke-width="1" shape-rendering="crispEdges"/>
<text x="8.60" y="678" font-size="12.9" font-weight="bold" fill="#000" textLength="36.00" lengthAdjust="spacingAndGlyphs">Sonde</text>
<text x="8.60" y="694" font-size="12.9" font-weight="bold" fill="#000" textLength="60.00" lengthAdjust="spacingAndGlyphs">Valeur Min</text>
<text x="8.60" y="710" font-size="12.9" font-weight="bold" fill="#000" textLength="63.00" lengthAdjust="spacingAndGlyphs">Valeur Max</text>
<text x="8.60" y="726" font-size="12.9" font-weight="bold" fill="#000" textLength="51.00" lengthAdjust="spacingAndGlyphs">Moyenne</text>
<text x="8.60" y="742" font-size="12.9" font-weight="bold" fill="#000" textLength="39.00" lengthAdjust="spacingAndGlyphs">31/12/</text>
<text x="94.60" y="678" font-size="12.9" font-weight="bold" fill="#000" textLength="60.00" lengthAdjust="spacingAndGlyphs">Temp. Ext.</text>
<text x="199.00" y="678" font-size="12.9" font-weight="bold" text-anchor="end" fill="#000" textLength="11.72" lengthAdjust="spacingAndGlyphs">°C</text>
<text x="94.60" y="694" font-size="12.9" fill="#000" textLength="67.00" lengthAdjust="spacingAndGlyphs">21/01/  07:36</text>
<text x="199.00" y="694" font-size="12.9" text-anchor="end" fill="#000" textLength="18.01" lengthAdjust="spacingAndGlyphs">-5.7</text>
<text x="94.60" y="710" font-size="12.9" fill="#000" textLength="67.00" lengthAdjust="spacingAndGlyphs">25/07/  16:50</text>
<text x="199.00" y="710" font-size="12.9" text-anchor="end" fill="#000" textLength="20.34" lengthAdjust="spacingAndGlyphs">41.7</text>
<text x="199.00" y="726" font-size="12.9" text-anchor="end" fill="#000" textLength="27.00" lengthAdjust="spacingAndGlyphs">11.73</text>
<text x="199.00" y="742" font-size="12.9" font-weight="bold" text-anchor="end" fill="#000" textLength="18.00" lengthAdjust="spacingAndGlyphs">2.4</text>
<text x="211.60" y="678" font-size="12.9" font-weight="bold" fill="#000" textLength="54.00" lengthAdjust="spacingAndGlyphs">Hum. Ext.</text>
<text x="316.00" y="678" font-size="12.9" font-weight="bold" text-anchor="end" fill="#000" textLength="9.29" lengthAdjust="spacingAndGlyphs">%</text>
<text x="211.60" y="694" font-size="12.9" fill="#000" textLength="67.00" lengthAdjust="spacingAndGlyphs">25/07/  16:40</text>
<text x="316.00" y="694" font-size="12.9" text-anchor="end" fill="#000" textLength="11.62" lengthAdjust="spacingAndGlyphs">19</text>
<text x="211.60" y="710" font-size="12.9" fill="#000" textLength="67.00" lengthAdjust="spacingAndGlyphs">11/01/  07:10</text>
<text x="316.00" y="710" font-size="12.9" text-anchor="end" fill="#000" textLength="11.62" lengthAdjust="spacingAndGlyphs">98</text>
<text x="316.00" y="726" font-size="12.9" text-anchor="end" fill="#000" textLength="11.62" lengthAdjust="spacingAndGlyphs">81</text>
<text x="211.60" y="742" font-size="12.9" fill="#000" textLength="50.00" lengthAdjust="spacingAndGlyphs"> 5.25 g/m³</text>
<text x="316.00" y="742" font-size="12.9" font-weight="bold" text-anchor="end" fill="#000" textLength="13.00" lengthAdjust="spacingAndGlyphs">92</text>
<text x="329.60" y="678" font-size="12.9" font-weight="bold" fill="#000" textLength="27.00" lengthAdjust="spacingAndGlyphs">Baro.</text>
<text x="434.00" y="678" font-size="12.9" font-weight="bold" text-anchor="end" fill="#000" textLength="24.00" lengthAdjust="spacingAndGlyphs">hPa</text>
<text x="329.60" y="694" font-size="12.9" fill="#000" textLength="67.00" lengthAdjust="spacingAndGlyphs">13/12/  04:56</text>
<text x="434.00" y="694" font-size="12.9" text-anchor="end" fill="#000" textLength="29.00" lengthAdjust="spacingAndGlyphs">970.1</text>
<text x="329.60" y="710" font-size="12.9" fill="#000" textLength="67.00" lengthAdjust="spacingAndGlyphs">03/01/  11:26</text>
<text x="434.00" y="710" font-size="12.9" text-anchor="end" fill="#000" textLength="34.00" lengthAdjust="spacingAndGlyphs">1041.5</text>
<text x="434.00" y="726" font-size="12.9" text-anchor="end" fill="#000" textLength="32.00" lengthAdjust="spacingAndGlyphs">1014.5</text>
<text x="434.00" y="742" font-size="12.9" font-weight="bold" text-anchor="end" fill="#000" textLength="40.00" lengthAdjust="spacingAndGlyphs">1032.2</text>
<text x="448.60" y="678" font-size="12.9" font-weight="bold" fill="#000" textLength="30.00" lengthAdjust="spacingAndGlyphs">Vent</text>
<text x="553.00" y="678" font-size="12.9" font-weight="bold" text-anchor="end" fill="#000" textLength="30.00" lengthAdjust="spacingAndGlyphs">km/h</text>
<text x="448.60" y="694" font-size="12.9" fill="#000" textLength="68.00" lengthAdjust="spacingAndGlyphs">01/01/  00:00</text>
<text x="553.00" y="694" font-size="12.9" text-anchor="end" fill="#000" textLength="14.53" lengthAdjust="spacingAndGlyphs">0.0</text>
<text x="448.60" y="710" font-size="12.9" fill="#000" textLength="78.00" lengthAdjust="spacingAndGlyphs">12/03/  14:0-SO</text>
<text x="553.00" y="710" font-size="12.9" text-anchor="end" fill="#000" textLength="20.34" lengthAdjust="spacingAndGlyphs">37.5</text>
<text x="448.60" y="726" font-size="12.9" fill="#000" textLength="58.00" lengthAdjust="spacingAndGlyphs">88345.2 km</text>
<text x="553.00" y="726" font-size="12.9" text-anchor="end" fill="#000" textLength="14.53" lengthAdjust="spacingAndGlyphs">5.0</text>
<text x="448.60" y="742" font-size="12.9" fill="#000" textLength="55.00" lengthAdjust="spacingAndGlyphs"> 0 Bft E-SE</text>
<text x="553.00" y="742" font-size="12.9" font-weight="bold" text-anchor="end" fill="#000" textLength="19.00" lengthAdjust="spacingAndGlyphs">0.7</text>
<text x="565.60" y="678" font-size="12.9" font-weight="bold" fill="#000" textLength="44.00" lengthAdjust="spacingAndGlyphs">Rafales</text>
<text x="670.00" y="678" font-size="12.9" font-weight="bold" text-anchor="end" fill="#000" textLength="30.00" lengthAdjust="spacingAndGlyphs">km/h</text>
<text x="565.60" y="694" font-size="12.9" fill="#000" textLength="68.00" lengthAdjust="spacingAndGlyphs">01/01/  00:00</text>
<text x="670.00" y="694" font-size="12.9" text-anchor="end" fill="#000" textLength="14.53" lengthAdjust="spacingAndGlyphs">0.0</text>
<text x="565.60" y="710" font-size="12.9" fill="#000" textLength="80.00" lengthAdjust="spacingAndGlyphs">10/03/  16:00 O</text>
<text x="670.00" y="710" font-size="12.9" text-anchor="end" fill="#000" textLength="20.34" lengthAdjust="spacingAndGlyphs">70.8</text>
<text x="565.60" y="726" font-size="12.9" fill="#000" textLength="58.00" lengthAdjust="spacingAndGlyphs">88345.2 km</text>
<text x="670.00" y="726" font-size="12.9" text-anchor="end" fill="#000" textLength="20.34" lengthAdjust="spacingAndGlyphs">10.1</text>
<text x="565.60" y="742" font-size="12.9" fill="#000" textLength="55.00" lengthAdjust="spacingAndGlyphs"> 1 Bft E-SE</text>
<text x="670.00" y="742" font-size="12.9" font-weight="bold" text-anchor="end" fill="#000" textLength="19.00" lengthAdjust="spacingAndGlyphs">1.8</text>
<text x="684.60" y="678" font-size="12.9" font-weight="bold" fill="#000" textLength="52.00" lengthAdjust="spacingAndGlyphs">Direction</text>
<text x="684.60" y="694" font-size="12.9" fill="#000" textLength="67.00" lengthAdjust="spacingAndGlyphs">08/04/  21:50</text>
<text x="789.00" y="694" font-size="12.9" text-anchor="end" fill="#000" textLength="7.55" lengthAdjust="spacingAndGlyphs">N</text>
<text x="684.60" y="710" font-size="12.9" fill="#000" textLength="67.00" lengthAdjust="spacingAndGlyphs">01/01/  17:26</text>
<text x="789.00" y="710" font-size="12.9" text-anchor="end" fill="#000" textLength="7.55" lengthAdjust="spacingAndGlyphs">N</text>
<text x="789.00" y="726" font-size="12.9" text-anchor="end" fill="#000" textLength="8.13" lengthAdjust="spacingAndGlyphs">O</text>
<text x="684.60" y="742" font-size="12.9" fill="#000" textLength="32.00" lengthAdjust="spacingAndGlyphs"> 112 °</text>
<text x="789.00" y="742" font-size="12.9" font-weight="bold" text-anchor="end" fill="#000" textLength="27.00" lengthAdjust="spacingAndGlyphs">E-SE</text>
<text x="801.60" y="678" font-size="12.9" font-weight="bold" fill="#000" textLength="29.00" lengthAdjust="spacingAndGlyphs">Pluie</text>
<text x="906.00" y="678" font-size="12.9" font-weight="bold" text-anchor="end" fill="#000" textLength="19.00" lengthAdjust="spacingAndGlyphs">mm</text>
<text x="801.60" y="694" font-size="12.9" fill="#000" textLength="90.00" lengthAdjust="spacingAndGlyphs">Jours de pluie: 190</text>
<text x="801.60" y="710" font-size="12.9" fill="#000" textLength="67.00" lengthAdjust="spacingAndGlyphs">27/07/  20:24</text>
<text x="906.00" y="710" font-size="12.9" text-anchor="end" fill="#000" textLength="21.00" lengthAdjust="spacingAndGlyphs">20.0</text>
<text x="801.60" y="726" font-size="12.9" fill="#000" textLength="27.00" lengthAdjust="spacingAndGlyphs">Total:</text>
<text x="906.00" y="726" font-size="12.9" text-anchor="end" fill="#000" textLength="28.00" lengthAdjust="spacingAndGlyphs">611.4</text>
<text x="801.60" y="742" font-size="12.9" fill="#000" textLength="46.00" lengthAdjust="spacingAndGlyphs"> 611.4 mm</text>
<text x="906.00" y="742" font-size="12.9" font-weight="bold" text-anchor="end" fill="#000" textLength="19.00" lengthAdjust="spacingAndGlyphs">0.0</text>
</svg></body></html>
